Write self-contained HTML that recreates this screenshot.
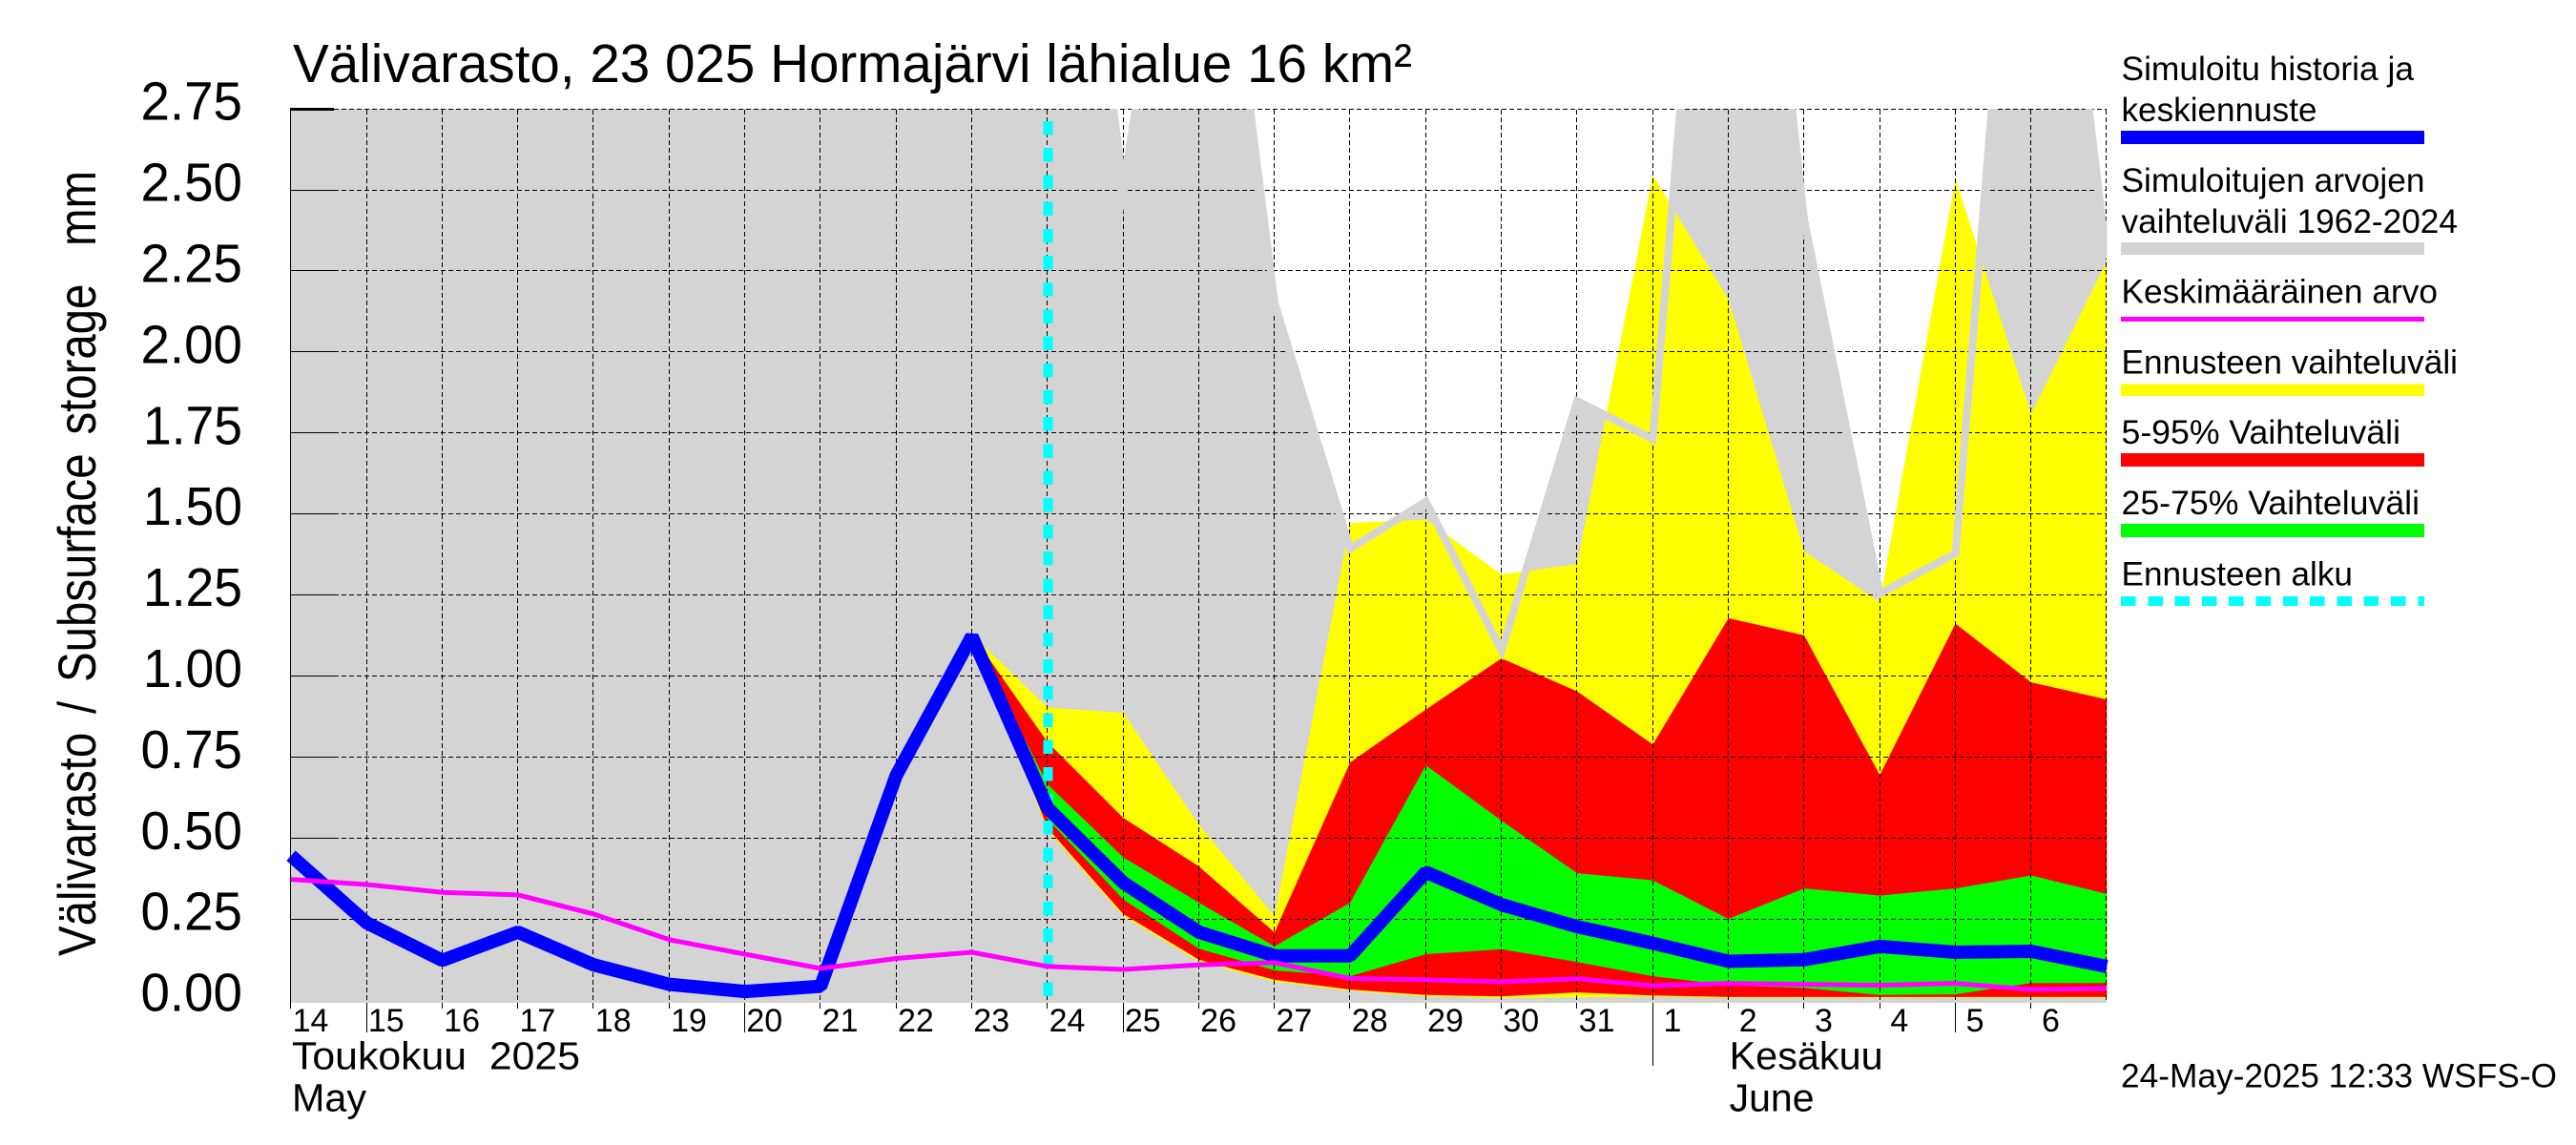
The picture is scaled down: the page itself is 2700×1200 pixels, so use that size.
<!DOCTYPE html>
<html lang="fi">
<head>
<meta charset="utf-8">
<title>Välivarasto, 23 025 Hormajärvi lähialue 16 km²</title>
<style>
html,body{margin:0;padding:0;background:#fff;width:2700px;height:1200px;overflow:hidden}
svg{display:block}
text{font-family:"Liberation Sans",sans-serif;fill:#000;white-space:pre}
</style>
</head>
<body>
<svg id="chart" xmlns="http://www.w3.org/2000/svg" width="2700" height="1200" viewBox="0 0 2700 1200">
  <rect x="0" y="0" width="2700" height="1200" fill="#fff"/>
  <defs><clipPath id="plot-clip"><rect x="304" y="114" width="1904.5" height="937"/></clipPath></defs>
  <g id="fills" clip-path="url(#plot-clip)"></g>
  <g id="grid" shape-rendering="crispEdges"></g>
  <g id="lines"></g>
  <g id="ticks"></g>

  <text x="307" y="86" font-size="57" textLength="1173" lengthAdjust="spacingAndGlyphs">Välivarasto, 23 025 Hormajärvi lähialue 16 km²</text>
  <text transform="translate(100,1002) rotate(-90)" font-size="56" word-spacing="8" textLength="823" lengthAdjust="spacingAndGlyphs" xml:space="preserve">Välivarasto / Subsurface storage  mm</text>

  <text x="306" y="1120.5" font-size="41" textLength="302" lengthAdjust="spacingAndGlyphs" xml:space="preserve">Toukokuu  2025</text>
  <text x="306" y="1164.5" font-size="41" textLength="78" lengthAdjust="spacingAndGlyphs">May</text>
  <text x="1812.6" y="1120.5" font-size="41" textLength="161" lengthAdjust="spacingAndGlyphs">Kesäkuu</text>
  <text x="1812.6" y="1164.5" font-size="41" textLength="89" lengthAdjust="spacingAndGlyphs">June</text>

  <g>
    <text x="2223.5" y="84" font-size="35" textLength="306.5" lengthAdjust="spacingAndGlyphs">Simuloitu historia ja</text>
    <text x="2223.5" y="127" font-size="35" textLength="205" lengthAdjust="spacingAndGlyphs">keskiennuste</text>
    <rect x="2223" y="137" width="318" height="14" fill="#0000ff"/>
    <text x="2223.5" y="201" font-size="35" textLength="318" lengthAdjust="spacingAndGlyphs">Simuloitujen arvojen</text>
    <text x="2223.5" y="243.8" font-size="35" textLength="352.5" lengthAdjust="spacingAndGlyphs">vaihteluväli 1962-2024</text>
    <rect x="2223" y="254" width="318" height="13" fill="#d3d3d3"/>
    <text x="2223.5" y="317.6" font-size="35" textLength="331.5" lengthAdjust="spacingAndGlyphs">Keskimääräinen arvo</text>
    <rect x="2223" y="332" width="318" height="5" fill="#ff00ff"/>
    <text x="2223.5" y="391.5" font-size="35" textLength="352.5" lengthAdjust="spacingAndGlyphs">Ennusteen vaihteluväli</text>
    <rect x="2223" y="402.5" width="318" height="12.5" fill="#ffff00"/>
    <text x="2223.5" y="465" font-size="35" textLength="292.5" lengthAdjust="spacingAndGlyphs">5-95% Vaihteluväli</text>
    <rect x="2223" y="475" width="318" height="14" fill="#ff0000"/>
    <text x="2223.5" y="538.8" font-size="35" textLength="312.5" lengthAdjust="spacingAndGlyphs">25-75% Vaihteluväli</text>
    <rect x="2223" y="549" width="318" height="14" fill="#00ff00"/>
    <text x="2223.5" y="613.4" font-size="35" textLength="242.5" lengthAdjust="spacingAndGlyphs">Ennusteen alku</text>
    <line x1="2223" y1="630" x2="2541" y2="630" stroke="#00ffff" stroke-width="10" stroke-dasharray="15.5 12.8" shape-rendering="crispEdges"/>
  </g>
  <text x="2223" y="1139.6" font-size="35" textLength="457" lengthAdjust="spacingAndGlyphs">24-May-2025 12:33 WSFS-O</text>
</svg>
<script>
// Daily categories: 14 May .. 6 June 2025, plus the closing edge day
const dayLabels = [14,15,16,17,18,19,20,21,22,23,24,25,26,27,28,29,30,31,1,2,3,4,5,6];
const longTickDays = [15,20,25,5];
const yTickLabels = ["0.00","0.25","0.50","0.75","1.00","1.25","1.50","1.75","2.00","2.25","2.50","2.75"];

// Simulated 1962-2024 range, upper bound, one value per day (14 May .. 7 June)
const rangeMax = [4.0,4.0,4.0,4.0,4.0,4.0,4.0,4.0,4.0,4.0,4.4,2.51,4.0,2.154,1.395,1.54,1.08,1.85,1.733,4.55,2.41,1.256,1.38,4.25,2.29];
// Simulated history and mean forecast
const meanForecast = [0.447,0.24,0.124,0.211,0.11,0.05,0.028,0.044,0.695,1.124,0.594,0.364,0.211,0.138,0.138,0.396,0.296,0.228,0.177,0.121,0.126,0.167,0.149,0.152,0.105];
// Long-term mean value
const longTermMean = [0.374,0.358,0.334,0.326,0.267,0.188,0.143,0.099,0.13,0.149,0.105,0.096,0.11,0.117,0.068,0.064,0.058,0.067,0.046,0.053,0.05,0.047,0.053,0.034,0.037];

// Forecast bands start at index 9 (23 May)
const forecastStartIndex = 9;
const forecastMax = [1.13,0.904,0.888,0.543,0.26,1.474,1.484,1.315,1.347,2.547,2.163,1.386,1.23,2.536,1.81,2.282];
const p95 = [1.13,0.797,0.564,0.414,0.21,0.735,0.898,1.056,0.954,0.79,1.18,1.127,0.696,1.163,0.982,0.929];
const p75 = [1.13,0.667,0.442,0.302,0.167,0.302,0.726,0.555,0.393,0.371,0.252,0.346,0.324,0.346,0.386,0.329];
const p25 = [1.13,0.56,0.312,0.16,0.093,0.075,0.143,0.158,0.119,0.075,0.047,0.039,0.017,0.019,0.054,0.054];
const p05 = [1.13,0.532,0.267,0.126,0.064,0.034,0.017,0.013,0.025,0.016,0.011,0.011,0.011,0.011,0.011,0.011];
const forecastMin = [1.13,0.525,0.26,0.12,0.058,0.03,0.013,0.008,0.01,0.012,0.008,0.008,0.008,0.008,0.008,0.008];
const forecastStartDay = 10;

const NS = "http://www.w3.org/2000/svg";
const xAxis = i => 305 + 79.3 * i;
const yAxis = v => 1048.6 - 339.6 * v;
const fills = document.getElementById("fills");
const grid = document.getElementById("grid");
const lines = document.getElementById("lines");
const ticks = document.getElementById("ticks");
const make = (tag, attrs, parent) => {
  const el = document.createElementNS(NS, tag);
  for (const k in attrs) el.setAttribute(k, attrs[k]);
  parent.appendChild(el);
  return el;
};
const seriesPoints = (arr, start) => arr.map((v, i) => xAxis(i + start).toFixed(1) + "," + yAxis(v).toFixed(1));

// Grey historical range band
const rangeBandPoints = seriesPoints(rangeMax, 0);
rangeBandPoints.push(xAxis(rangeMax.length - 1) + "," + yAxis(-0.01), xAxis(0) + "," + yAxis(-0.01));
const rangeBand = make("polygon", {points: rangeBandPoints.join(" "), fill: "#d4d4d4"}, fills);



// Forecast bands
const bandOf = (upper, lower) => seriesPoints(upper, forecastStartIndex).concat(seriesPoints(lower, forecastStartIndex).reverse()).join(" ");
const bandYellow = make("polygon", {points: bandOf(forecastMax, forecastMin), fill: "#ffff00"}, fills);


const bandRed = make("polygon", {points: bandOf(p95, p05), fill: "#ff0000"}, fills);


const bandGreen = make("polygon", {points: bandOf(p75, p25), fill: "#00ff00"}, fills);



// Grid, y ticks
yTickLabels.forEach(label => {
  const v = parseFloat(label);
  const y = Math.round(yAxis(v)) + 0.5 - 1;
  if (v > 0) {
    const gl = make("line", {x1: 350, x2: 2208, y1: y, y2: y, stroke: "#000", "stroke-width": 1, "stroke-dasharray": "5 3"}, grid);
    
    
    const tk = make("line", {x1: 304, x2: 350, y1: y, y2: y, stroke: "#000", "stroke-width": v === 2.75 ? 3 : 1.4, "shape-rendering": "crispEdges"}, ticks);
    
    
  }
  const t = make("text", {x: 254, y: yAxis(v) + 11, "font-size": 57, "text-anchor": "end", textLength: label[0] === "1" ? 104 : 106.5, lengthAdjust: "spacingAndGlyphs"}, ticks);
  
  
  t.textContent = label;
});

// Vertical grid, x ticks
dayLabels.forEach((d, i) => {
  const x = Math.round(xAxis(i) - 0.8) + 0.5;
  const gl = make("line", {x1: x, x2: x, y1: 115, y2: 1051, stroke: "#000", "stroke-width": 1, "stroke-dasharray": "5 3"}, grid);
  
  
  const isMonthStart = d === 1;
  const isLong = longTickDays.includes(d);
  const tk = make("line", {x1: x, x2: x, y1: 1051, y2: isMonthStart ? 1117 : (isLong ? 1082 : 1057), stroke: "#000", "stroke-width": 1, "shape-rendering": "crispEdges"}, ticks);
  
  
  const t = make("text", {x: xAxis(i) + 20.5, y: 1081, "font-size": 34, "text-anchor": "middle"}, ticks);
  
  
  t.textContent = String(d);
});
const closeX = Math.round(xAxis(dayLabels.length) - 0.8) + 0.5;
const rightEdge = make("line", {x1: closeX, x2: closeX, y1: 115, y2: 1051, stroke: "#000", "stroke-width": 1, "stroke-dasharray": "5 3"}, grid);


const leftAxis = make("line", {x1: 304.5, x2: 304.5, y1: 115, y2: 1057, stroke: "#000", "stroke-width": 1, "shape-rendering": "crispEdges"}, ticks);



// Grey upper-bound line over the forecast bands
const rangeLine = make("polyline", {points: seriesPoints(rangeMax, 0).join(" "), fill: "none", stroke: "#d4d4d4", "stroke-width": 8, "stroke-linejoin": "miter", "stroke-miterlimit": 10, "clip-path": "url(#plot-clip)"}, lines);



// Forecast start marker, placed from the day axis
const startX = xAxis(forecastStartDay) + 0.5;
const startLine = make("line", {x1: startX, x2: startX, y1: 127, y2: 1045, stroke: "#00ffff", "stroke-width": 10, "stroke-dasharray": "14.5 13.7", "shape-rendering": "crispEdges"}, lines);



// Mean forecast and long-term mean
const blueLine = make("polyline", {points: seriesPoints(meanForecast, 0).join(" "), fill: "none", stroke: "#0000ff", "stroke-width": 14, "stroke-linejoin": "bevel"}, lines);


const magentaLine = make("polyline", {points: seriesPoints(longTermMean, 0).join(" "), fill: "none", stroke: "#ff00ff", "stroke-width": 5, "stroke-linejoin": "miter"}, lines);


</script>
</body>
</html>
